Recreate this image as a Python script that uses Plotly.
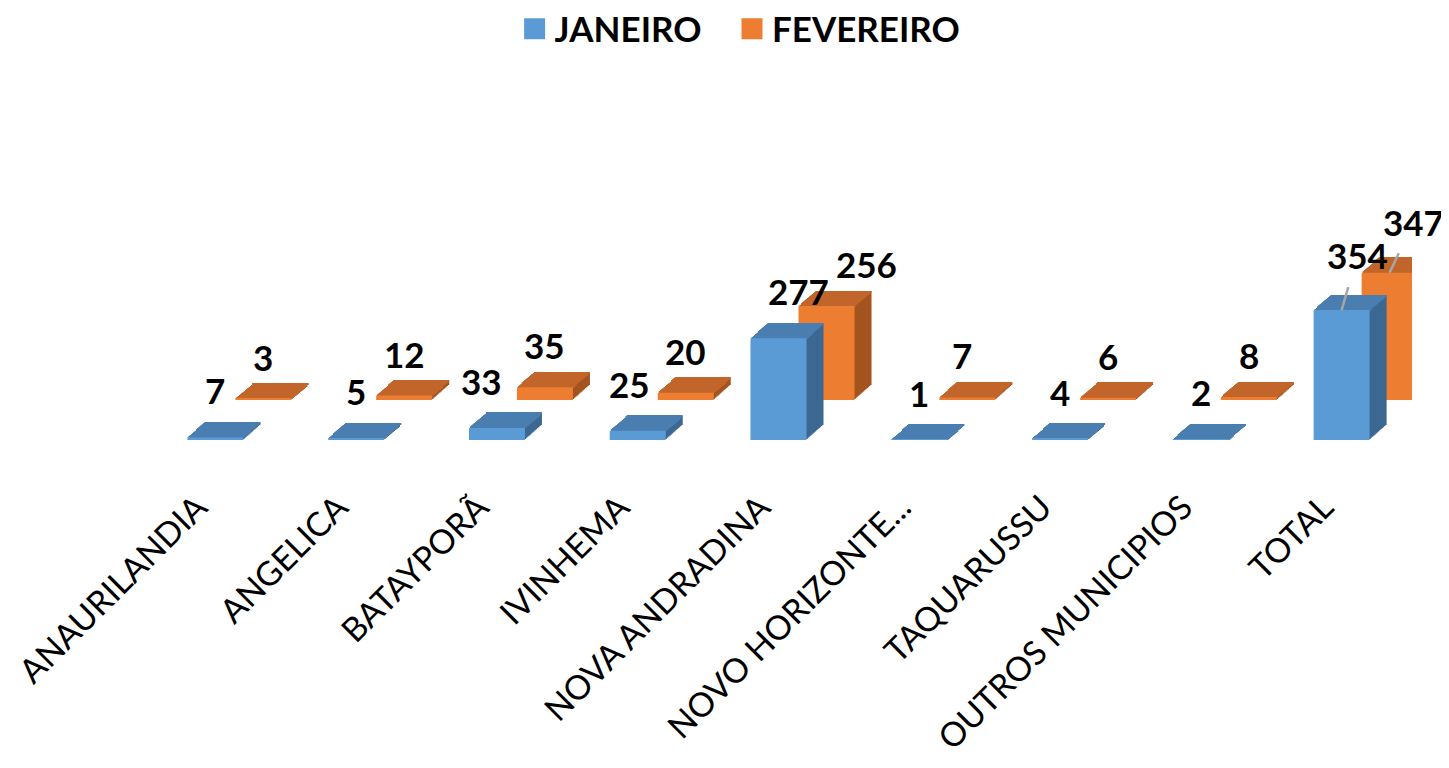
import plotly.graph_objects as go

# ---------------- data ----------------
categories = ["ANAURILANDIA", "ANGELICA", "BATAYPORÃ", "IVINHEMA", "NOVA ANDRADINA",
              "NOVO HORIZONTE...", "TAQUARUSSU", "OUTROS MUNICIPIOS", "TOTAL"]
janeiro = [7, 5, 33, 25, 277, 1, 4, 2, 354]
fevereiro = [3, 12, 35, 20, 256, 7, 6, 8, 347]
series_names = ["JANEIRO", "FEVEREIRO"]

# ---------------- geometry / style ----------------
# the page body adds an 8px margin, so the figure is 8px smaller than the window
W, H = 1441, 760
PX_CAT = 140.75          # pixels per category
PX_UNIT = 0.367          # pixels per value unit
PLOT_TOP, PLOT_BOTTOM, BASELINE = 92, 472, 432
ML = 137
MR = W - ML - 9 * PX_CAT
MT = PLOT_TOP
MB = H - PLOT_BOTTOM
PLOT_H = PLOT_BOTTOM - PLOT_TOP
PLOT_W = 9 * PX_CAT

FONT = "Lato, sans-serif"

front_w_px = 56
depth_dx_px, depth_dy_px = 17, 15
N_LAYERS = 14

styles = {
    "JANEIRO": dict(front="#5B9BD5", top="#4A7DB0", side="#3C6892",
                    off_px=-28, base_px=0, rank=1, label_dy=47),
    "FEVEREIRO": dict(front="#ED7D31", top="#C1652A", side="#A4541F",
                      off_px=-28 + 48, base_px=40, rank=2, label_dy=42),
}
# horizontal nudges (px) of individual data labels, as placed in the original
label_nudge = {
    ("JANEIRO", "BATAYPORÃ"): -15,
    ("JANEIRO", "IVINHEMA"): -8,
    ("JANEIRO", "NOVA ANDRADINA"): 20,
    ("FEVEREIRO", "NOVA ANDRADINA"): 40,
    ("FEVEREIRO", "NOVO HORIZONTE..."): -5,
}

w_cat = front_w_px / PX_CAT
dxs = depth_dx_px / PX_CAT / N_LAYERS
dys = depth_dy_px / PX_UNIT / N_LAYERS

fig = go.Figure()
NBSP = "\u00a0"


def add_series(name, values):
    st = styles[name]
    off = st["off_px"] / PX_CAT
    b = st["base_px"] / PX_UNIT
    common = dict(x=categories, width=w_cat, hoverinfo="skip", showlegend=False)
    # side (extrusion) layers
    for k in range(N_LAYERS, 0, -1):
        fig.add_trace(go.Bar(y=values, base=[b + k * dys] * len(values),
                             offset=off + k * dxs,
                             marker=dict(color=st["side"], line=dict(width=0)), **common))
    # top face slices
    for k in range(1, N_LAYERS + 1):
        fig.add_trace(go.Bar(y=[dys * 1.05] * len(values),
                             base=[b + v + (k - 1) * dys for v in values],
                             offset=off + k * dxs,
                             marker=dict(color=st["top"], line=dict(width=0)), **common))
    # front face
    fig.add_trace(go.Bar(y=values, base=[b] * len(values), offset=off,
                         marker=dict(color=st["front"], line=dict(width=0)), **common))
    # legend entry
    label = name + (NBSP * 3 if st["rank"] == 1 else "")
    fig.add_trace(go.Scatter(x=[None], y=[None], mode="markers", name=label,
                             legendrank=st["rank"],
                             marker=dict(symbol="square", size=16, color=st["front"],
                                         line=dict(width=8, color=st["front"]))))


add_series("FEVEREIRO", fevereiro)
add_series("JANEIRO", janeiro)

# ---------------- data labels ----------------
annotations = []
label_font = dict(family=FONT, size=35, color="#000000", weight="bold")
for name, values in (("JANEIRO", janeiro), ("FEVEREIRO", fevereiro)):
    st = styles[name]
    b = st["base_px"] / PX_UNIT
    cx = st["off_px"] + front_w_px / 2
    for cat, v in zip(categories, values):
        if cat == "TOTAL":
            ax, ay = (16, -55) if name == "JANEIRO" else (24, -51)
            annotations.append(dict(x=cat, y=b + v, xref="x", yref="y", text=str(v),
                                    xshift=cx, showarrow=True, ax=ax, ay=ay,
                                    arrowhead=0, arrowwidth=2.5, arrowcolor="#A6A6A6",
                                    startstandoff=10, standoff=0, font=label_font))
        else:
            annotations.append(dict(x=cat, y=b + v, xref="x", yref="y", text=str(v),
                                    xshift=cx + label_nudge.get((name, cat), 0),
                                    yshift=st["label_dy"], showarrow=False,
                                    font=label_font))

fig.update_layout(
    width=W, height=H,
    margin=dict(l=ML, r=MR, t=MT, b=MB, autoexpand=False),
    barmode="overlay",
    plot_bgcolor="white", paper_bgcolor="white",
    font=dict(family=FONT, color="#000000"),
    annotations=annotations,
    legend=dict(orientation="h", x=(732 - ML) / PLOT_W, xanchor="center",
                y=1 + (PLOT_TOP - 21) / PLOT_H, yanchor="middle",
                font=dict(family=FONT, size=35, weight="bold", color="#000000"),
                itemsizing="trace", traceorder="normal"),
    xaxis=dict(range=[-0.5, 8.5], showgrid=False, zeroline=False, showline=False,
               ticks="", tickangle=-45, automargin=False,
               ticklabelshift=-18, ticklabelstandoff=0,
               tickfont=dict(family=FONT, size=33.5, color="#000000")),
    yaxis=dict(range=[-(PLOT_BOTTOM - BASELINE) / PX_UNIT, (BASELINE - PLOT_TOP) / PX_UNIT],
               visible=False, showgrid=False, zeroline=False, automargin=False),
)

fig.write_html("out.html")
